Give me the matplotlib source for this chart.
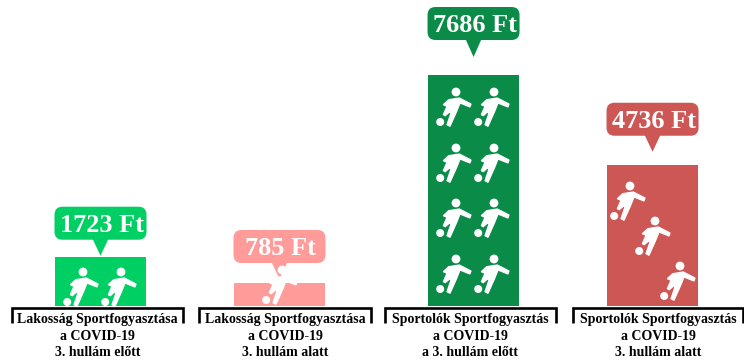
import matplotlib
matplotlib.use('Agg')
import matplotlib.pyplot as plt
import numpy as np
from matplotlib.patches import FancyBboxPatch, Polygon, Circle
from matplotlib.transforms import Affine2D

plt.rcParams['font.family'] = ['Liberation Serif', 'DejaVu Serif']

categories = ['Lakosság Sportfogyasztása\na COVID-19\n3. hullám előtt',
              'Lakosság Sportfogyasztása\na COVID-19\n3. hullám alatt',
              'Sportolók Sportfogyasztás\na COVID-19\na 3. hullám előtt',
              'Sportolók Sportfogyasztás\na COVID-19\n3. hullám alatt']
labels = ['1723 Ft', '785 Ft', '7686 Ft', '4736 Ft']
# bar heights as drawn in the picture, they don't quite follow the printed Ft
heights = [1640, 765, 7686, 4700]
colors = ['#00CF64', '#FF9C9A', '#0A8C48', '#CD5755']
positions = [0, 1, 2.084, 3.084]

W, H = 744, 360
BASE = 306
fig = plt.figure(figsize=(W / 100, H / 100), dpi=100)
ax = fig.add_axes([0, (H - BASE) / H, 1, BASE / H])
ax.bar(positions, heights, width=0.508, color=colors)
ax.set_xlim(-100.5 / 179, (W - 100.5) / 179)
ax.set_ylim(0, BASE / 231 * 7686)
ax.axis('off')

# everything around the bars is placed in pixels from the top left
px = Affine2D().scale(1, -1).translate(0, H)

# callouts
box_gap = [17, 20, 35, 29]
tip_len = [16, 16, 17, 16]
for i in range(4):
    cx, top = ax.transData.transform((positions[i], heights[i]))
    top = H - top
    bottom = top - box_gap[i]
    ax.add_patch(FancyBboxPatch((cx - 41, bottom - 28), 82, 23, boxstyle='round,pad=5,rounding_size=8',
                                transform=px, fc=colors[i], ec='none', clip_on=False, mutation_aspect=1))
    ax.add_patch(Polygon([(cx - 8, bottom - 1), (cx + 8, bottom - 1), (cx, bottom + tip_len[i])],
                         transform=px, fc=colors[i], ec='none', clip_on=False))
    ax.text(cx + 1, bottom - 14.5, labels[i], transform=px, color='white', fontsize=18.9, fontweight='bold',
            ha='center', va='center')

# player icon, relative to the centre of the head
body = np.array([(-7.3, 7.7), (3.3, 6), (15, 12), (14, 15), (4, 11), (0.7, 19.3), (-6, 34.3), (-9, 32.7),
                 (-5, 21), (-6.5, 20), (-10.7, 23.7), (-12.7, 22.7), (-9, 14.3), (-12.7, 12.7)])
heads = [(83, 272), (121, 272), (282, 270),
         (456, 92), (494, 92), (456, 148), (494, 148), (456, 203), (494, 203), (456, 259), (494, 259),
         (630, 186), (655, 221), (680, 266)]
for hx, hy in heads:
    ax.add_patch(Polygon(body + (hx, hy), transform=px, fc='white', ec='white', lw=0.9, clip_on=False, zorder=5))
    ax.add_patch(Circle((hx, hy), 4.4, transform=px, fc='white', ec='none', clip_on=False, zorder=5))
    ax.add_patch(Circle((hx - 15.8, hy + 30), 4, transform=px, fc='white', ec='none', clip_on=False, zorder=5))

# brackets with the category names
bracket_l = [12, 199, 385, 573]
bracket_r = [183, 371, 556, 743]
for i in range(4):
    ax.plot([bracket_l[i], bracket_l[i], bracket_r[i], bracket_r[i]], [323, 307.5, 307.5, 323], color='black',
            lw=1.9, transform=px, clip_on=False, solid_joinstyle='miter', solid_capstyle='butt', zorder=6)
    for j, line in enumerate(categories[i].split('\n')):
        ax.text((bracket_l[i] + bracket_r[i]) / 2, 320 + 16 * j, line, transform=px, color='black', fontsize=10,
                fontweight='bold', ha='center', va='center', zorder=7)

fig.savefig('out.png', dpi=100)
